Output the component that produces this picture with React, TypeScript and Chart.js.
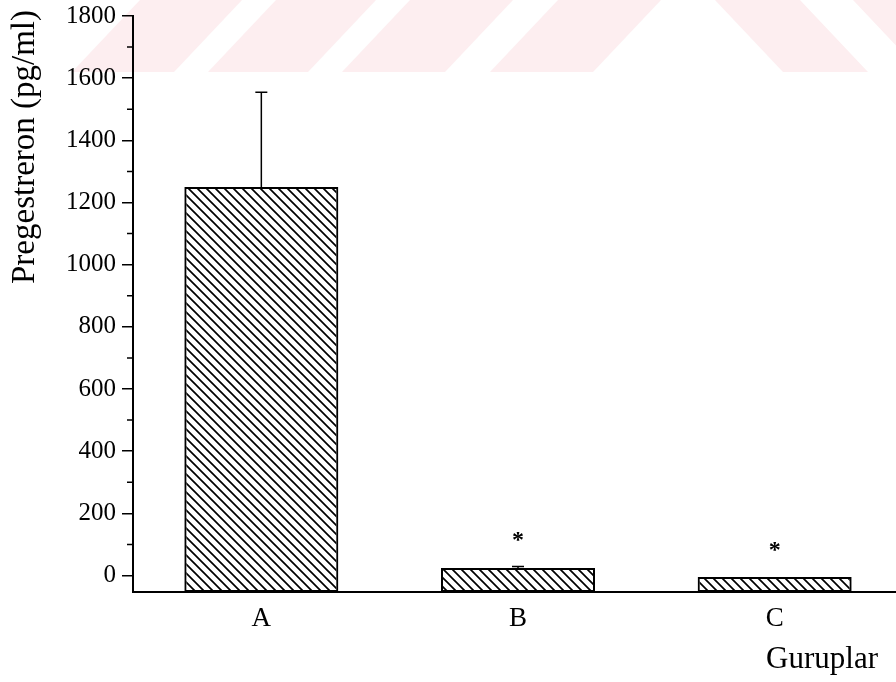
import React, { useEffect, useRef } from "react";
import { Chart, registerables } from "chart.js";

Chart.register(...registerables);

// ---- data ----
const categories = ["A", "B", "C"];
const means = [1250, 24, -5];
const errors = [305, 5, 0];
const markers = ["", "*", "*"];
const markerValues = [0, 121, 89];
const minorTickValues = [100, 300, 500, 700, 900, 1100, 1300, 1500, 1700];
const yMin = -53;
const yMax = 1800;
const yStep = 200;
const yTitle = "Pregestreron (pg/ml)";
const xTitle = "Guruplar";

const FONT = "'Liberation Serif', 'Times New Roman', serif";

// watermark bands (decorative)
const WM_COLOR = "#fdeef0";

const decoPlugin = {
  id: "deco",
  beforeDraw(chart: any) {
    const ctx = chart.ctx;
    ctx.save();
    ctx.fillStyle = "#ffffff";
    ctx.fillRect(0, 0, chart.width, chart.height);
    const h = 72;
    const s = 68;
    ctx.fillStyle = WM_COLOR;
    ctx.beginPath();
    ctx.moveTo(72, h);
    ctx.lineTo(72 + s, 0);
    ctx.lineTo(chart.width, 0);
    ctx.lineTo(chart.width, h);
    ctx.closePath();
    ctx.fill();
    ctx.fillStyle = "#ffffff";
    const leftBands = [
      [174, 208],
      [308, 342],
      [445, 490],
    ];
    for (const [a, b] of leftBands) {
      ctx.beginPath();
      ctx.moveTo(a, h);
      ctx.lineTo(b, h);
      ctx.lineTo(b + s, 0);
      ctx.lineTo(a + s, 0);
      ctx.closePath();
      ctx.fill();
    }
    // centre chevron gap
    ctx.beginPath();
    ctx.moveTo(593, h);
    ctx.lineTo(783, h);
    ctx.lineTo(783 - s, 0);
    ctx.lineTo(593 + s, 0);
    ctx.closePath();
    ctx.fill();
    // right band
    ctx.beginPath();
    ctx.moveTo(868, h);
    ctx.lineTo(921, h);
    ctx.lineTo(921 - s, 0);
    ctx.lineTo(868 - s, 0);
    ctx.closePath();
    ctx.fill();
    ctx.restore();
  },
  afterDatasetsDraw(chart: any) {
    const ctx = chart.ctx;
    const y = chart.scales.y;
    const meta = chart.getDatasetMeta(0);
    ctx.save();
    ctx.strokeStyle = "#000";
    ctx.lineWidth = 1.5;
    // error bars
    means.forEach((m, i) => {
      if (!errors[i]) return;
      const x = meta.data[i].x;
      const y1 = y.getPixelForValue(m);
      const y2 = y.getPixelForValue(m + errors[i]);
      ctx.beginPath();
      ctx.moveTo(x, y1);
      ctx.lineTo(x, y2);
      ctx.moveTo(x - 6, y2);
      ctx.lineTo(x + 6, y2);
      ctx.stroke();
    });
    // significance markers
    ctx.fillStyle = "#000";
    ctx.font = `bold 24px ${FONT}`;
    ctx.textAlign = "center";
    ctx.textBaseline = "middle";
    markers.forEach((mk, i) => {
      if (!mk) return;
      const x = meta.data[i].x;
      ctx.fillText(mk, x, y.getPixelForValue(markerValues[i]) + 3);
    });
    ctx.restore();
  },
  afterDraw(chart: any) {
    const ctx = chart.ctx;
    const y = chart.scales.y;
    const left = chart.chartArea.left;
    ctx.save();
    ctx.strokeStyle = "#000";
    ctx.lineWidth = 1.5;
    ctx.beginPath();
    for (const v of minorTickValues) {
      const py = y.getPixelForValue(v);
      ctx.moveTo(left - 6, py);
      ctx.lineTo(left, py);
    }
    ctx.stroke();
    // axis titles
    ctx.fillStyle = "#000";
    ctx.font = `33px ${FONT}`;
    ctx.textAlign = "center";
    ctx.textBaseline = "alphabetic";
    ctx.save();
    ctx.translate(34, 147);
    ctx.rotate(-Math.PI / 2);
    ctx.fillText(yTitle, 0, 0);
    ctx.restore();
    ctx.font = `31px ${FONT}`;
    ctx.textAlign = "right";
    ctx.fillText(xTitle, 878, 668);
    ctx.restore();
  },
};

export default function App() {
  const ref = useRef<HTMLCanvasElement | null>(null);
  useEffect(() => {
    const canvas = ref.current!;
    const tile = document.createElement("canvas");
    tile.width = 9;
    tile.height = 9;
    const g = tile.getContext("2d")!;
    g.strokeStyle = "#000";
    g.lineWidth = 1.7;
    g.beginPath();
    g.moveTo(-2, -2);
    g.lineTo(11, 11);
    g.moveTo(7, -2);
    g.lineTo(11, 2);
    g.moveTo(-2, 7);
    g.lineTo(2, 11);
    g.stroke();
    const pattern = canvas.getContext("2d")!.createPattern(tile, "repeat");

    const chart = new Chart(canvas, {
      type: "bar",
      data: {
        labels: categories,
        datasets: [
          {
            data: means,
            base: yMin,
            backgroundColor: pattern as any,
            borderColor: "#000",
            borderWidth: 2,
            borderSkipped: false,
            barPercentage: 0.6,
            categoryPercentage: 1,
          } as any,
        ],
      },
      options: {
        animation: false,
        responsive: false,
        devicePixelRatio: 1,
        layout: { padding: { top: 16, right: 9, left: 0, bottom: 0 } },
        plugins: { legend: { display: false }, tooltip: { enabled: false } },
        scales: {
          x: {
            type: "category",
            offset: true,
            grid: { display: false, drawTicks: false },
            border: { display: true, color: "#000", width: 2 },
            ticks: { color: "#000", font: { family: FONT, size: 27 }, padding: 11 },
            afterFit: (s: any) => {
              s.height = 90;
            },
          },
          y: {
            type: "linear",
            min: yMin,
            max: yMax,
            grid: {
              drawOnChartArea: false,
              drawTicks: true,
              tickLength: 11,
              color: "#000",
              lineWidth: 1.5,
            },
            border: { display: true, color: "#000", width: 2 },
            ticks: {
              stepSize: yStep,
              includeBounds: false,
              color: "#000",
              font: { family: FONT, size: 25 },
              padding: 6,
              callback: (v: any) => String(v),
            },
            afterFit: (s: any) => {
              s.width = 133;
              s.paddingTop = 0;
              s.paddingBottom = 0;
            },
          },
        },
      },
      plugins: [decoPlugin],
    });
    return () => chart.destroy();
  }, []);

  return (
    <div
      style={{
        position: "fixed",
        left: 0,
        top: 0,
        width: 896,
        height: 682,
        overflow: "hidden",
        background: "#fff",
      }}
    >
      <canvas ref={ref} width={912} height={682} style={{ width: 912, height: 682, display: "block" }} />
    </div>
  );
}
